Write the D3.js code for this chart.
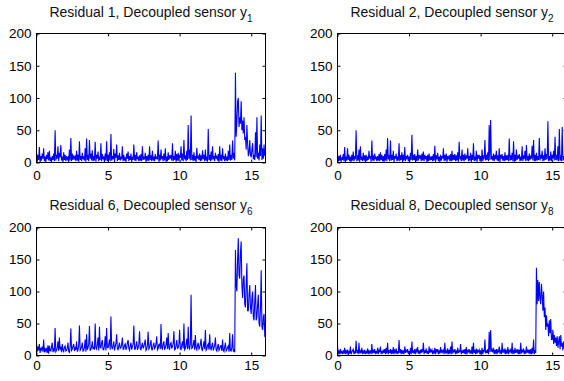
<!DOCTYPE html>
<html>
<head>
<meta charset="utf-8">
<script src="https://cdn.jsdelivr.net/npm/d3@7"></script>
<style>
  body { margin: 0; background: #fff; }
  svg { display: block; font-family: "Liberation Sans", Arial, Helvetica, sans-serif; }
</style>
</head>
<body>
<div id="chart"></div>
<script>
// sample spacing of the residual signals (time axis 0..16)
const sampleStep = 0.05;
const xDomain = [0, 16];
const yDomain = [0, 200];
const xTicks = [0, 5, 10, 15];
const yTicks = [0, 50, 100, 150, 200];

const residualNums = ['1', '2', '6', '8'];

// residual 1, decoupled sensor y1 (one row per time unit)
const residual1 = [
  15, 2, 12, 4, 24, 1, 10, 3, 14, 6, 22, 2, 9, 1, 12, 5, 16, 3, 18, 2,
  8, 1, 10, 4, 14, 2, 50, 3, 12, 6, 25, 2, 15, 8, 27, 3, 9, 1, 16, 4,
  12, 2, 10, 5, 8, 1, 20, 3, 38, 2, 14, 4, 11, 6, 9, 2, 18, 3, 12, 1,
  33, 4, 10, 2, 15, 5, 8, 3, 22, 1, 37, 4, 12, 2, 35, 6, 14, 3, 19, 2,
  10, 3, 32, 1, 12, 6, 17, 2, 9, 4, 30, 2, 13, 5, 8, 1, 14, 3, 33, 2,
  12, 4, 16, 2, 44, 3, 10, 5, 21, 1, 14, 7, 28, 2, 11, 4, 15, 3, 9, 5,
  25, 2, 12, 3, 8, 1, 14, 6, 17, 2, 10, 4, 14, 1, 9, 4, 28, 3, 12, 2,
  16, 5, 9, 2, 11, 3, 13, 2, 25, 4, 8, 6, 15, 1, 10, 3, 12, 2, 25, 4,
  11, 2, 18, 3, 9, 2, 13, 5, 8, 6, 34, 1, 12, 3, 20, 5, 10, 2, 14, 3,
  22, 1, 9, 2, 16, 4, 11, 6, 12, 3, 30, 2, 10, 4, 18, 1, 13, 3, 15, 2,
  12, 7, 25, 3, 14, 2, 35, 5, 11, 2, 18, 4, 58, 6, 20, 3, 73, 4, 12, 2,
  16, 3, 10, 1, 23, 6, 9, 4, 14, 2, 11, 3, 19, 5, 12, 2, 20, 3, 9, 1,
  52, 4, 12, 2, 17, 3, 25, 5, 10, 2, 15, 6, 9, 3, 13, 1, 25, 3, 12, 2,
  22, 5, 10, 2, 14, 3, 9, 2, 18, 4, 28, 3, 12, 4, 34, 6, 15, 3, 139, 40,
  62, 95, 100, 55, 70, 60, 95, 50, 65, 45, 70, 35, 40, 20, 58, 30, 10, 15, 35, 12,
  8, 20, 30, 5, 12, 4, 47, 8, 70, 6, 15, 3, 28, 10, 73, 4, 22, 6, 28, 10,
  20
];

// residual 2, decoupled sensor y2
const residual2 = [
  14, 2, 10, 3, 12, 1, 8, 4, 13, 2, 24, 1, 9, 3, 22, 4, 12, 2, 9, 1,
  12, 3, 17, 2, 10, 5, 50, 2, 11, 3, 20, 1, 25, 4, 9, 2, 15, 3, 11, 1,
  12, 2, 9, 4, 18, 6, 10, 1, 34, 3, 11, 2, 14, 5, 9, 2, 10, 3, 13, 2,
  16, 4, 12, 2, 10, 1, 13, 3, 20, 2, 38, 5, 11, 2, 34, 3, 12, 4, 18, 1,
  10, 6, 14, 2, 9, 3, 30, 2, 11, 4, 16, 1, 12, 3, 24, 2, 10, 7, 12, 2,
  9, 2, 15, 4, 43, 3, 12, 4, 13, 1, 10, 2, 20, 3, 12, 6, 11, 2, 14, 3,
  17, 2, 12, 5, 10, 1, 12, 2, 14, 3, 9, 4, 10, 2, 13, 3, 26, 1, 11, 5,
  15, 2, 9, 1, 12, 3, 10, 6, 22, 2, 12, 3, 14, 1, 10, 5, 11, 2, 13, 2,
  18, 3, 12, 4, 13, 2, 11, 3, 16, 1, 32, 5, 10, 2, 20, 3, 12, 2, 14, 4,
  11, 6, 22, 2, 10, 3, 15, 1, 12, 4, 30, 2, 9, 3, 18, 1, 12, 6, 12, 2,
  10, 3, 20, 2, 11, 5, 35, 3, 12, 4, 16, 2, 58, 4, 66, 5, 10, 3, 14, 2,
  12, 5, 18, 3, 11, 2, 22, 1, 12, 6, 13, 3, 10, 2, 16, 3, 11, 4, 12, 2,
  37, 3, 11, 4, 15, 2, 33, 1, 12, 2, 20, 4, 11, 6, 13, 2, 9, 3, 25, 2,
  11, 5, 18, 2, 27, 3, 10, 2, 14, 4, 9, 6, 26, 3, 35, 2, 12, 2, 15, 3,
  10, 4, 38, 3, 12, 6, 18, 2, 11, 3, 22, 4, 13, 5, 64, 2, 10, 3, 17, 2,
  12, 6, 18, 3, 40, 4, 12, 3, 25, 2, 52, 3, 11, 2, 55, 3, 10, 5, 30, 4,
  12
];

// residual 6, decoupled sensor y6
const residual6 = [
  20, 6, 14, 8, 18, 4, 12, 9, 14, 6, 25, 5, 10, 7, 12, 4, 16, 3, 15, 8,
  7, 14, 20, 5, 10, 8, 43, 6, 8, 12, 22, 7, 28, 9, 14, 5, 18, 8, 6, 13,
  15, 7, 8, 12, 20, 6, 5, 14, 42, 8, 10, 15, 18, 7, 12, 9, 22, 6, 9, 16,
  47, 8, 10, 14, 20, 7, 8, 13, 25, 6, 33, 9, 12, 18, 46, 8, 9, 14, 22, 10,
  14, 9, 50, 12, 10, 17, 28, 8, 45, 13, 12, 20, 24, 9, 9, 15, 30, 8, 43, 12,
  12, 18, 25, 9, 61, 14, 10, 16, 22, 8, 14, 19, 33, 10, 9, 15, 20, 11, 12, 17,
  28, 10, 10, 16, 18, 9, 12, 20, 24, 11, 8, 15, 20, 9, 14, 18, 47, 10, 10, 16,
  22, 9, 12, 17, 38, 10, 9, 15, 20, 11, 14, 19, 25, 8, 10, 16, 37, 10, 12, 18,
  24, 9, 9, 16, 20, 11, 13, 18, 30, 9, 11, 17, 18, 10, 49, 12, 10, 18, 22, 9,
  12, 17, 28, 10, 35, 12, 9, 18, 20, 11, 14, 19, 38, 9, 10, 16, 24, 11, 12, 18,
  40, 10, 9, 17, 22, 11, 50, 9, 11, 18, 26, 10, 45, 12, 10, 19, 95, 11, 12, 17,
  24, 9, 32, 12, 9, 16, 20, 10, 12, 18, 26, 9, 8, 15, 22, 10, 40, 8, 10, 16,
  18, 9, 33, 11, 9, 15, 20, 8, 12, 16, 28, 9, 7, 14, 18, 8, 10, 15, 15, 7,
  25, 8, 6, 14, 20, 7, 9, 13, 15, 6, 35, 8, 7, 12, 33, 6, 10, 5, 165, 110,
  100, 150, 183, 125, 120, 160, 178, 110, 90, 120, 125, 80, 75, 110, 144, 70, 70, 95, 110, 75,
  65, 90, 100, 60, 55, 85, 110, 55, 60, 80, 95, 50, 45, 75, 133, 45, 40, 60, 65, 30,
  28
];

// residual 8, decoupled sensor y8
const residual8 = [
  15, 3, 8, 2, 10, 4, 6, 2, 8, 3, 12, 2, 7, 4, 9, 1, 6, 3, 14, 2,
  5, 8, 10, 2, 6, 3, 23, 4, 9, 2, 20, 3, 7, 4, 12, 2, 8, 3, 9, 2,
  6, 3, 11, 2, 7, 4, 8, 2, 18, 3, 9, 4, 10, 2, 7, 3, 12, 2, 8, 5,
  14, 2, 7, 3, 9, 4, 10, 2, 12, 3, 20, 2, 8, 4, 10, 2, 9, 3, 13, 2,
  8, 5, 11, 2, 7, 3, 24, 4, 10, 2, 9, 3, 8, 2, 14, 4, 9, 5, 10, 2,
  7, 3, 12, 2, 22, 4, 8, 3, 10, 2, 9, 6, 13, 3, 8, 2, 9, 4, 10, 5,
  20, 2, 8, 4, 11, 3, 7, 2, 14, 4, 9, 6, 9, 2, 8, 3, 12, 2, 10, 5,
  10, 2, 8, 3, 13, 4, 9, 5, 8, 2, 20, 3, 7, 4, 11, 2, 9, 3, 14, 2,
  22, 3, 9, 5, 10, 2, 8, 3, 12, 4, 7, 6, 18, 2, 8, 4, 9, 3, 10, 2,
  13, 2, 9, 5, 10, 3, 8, 3, 14, 2, 20, 4, 9, 2, 11, 3, 8, 6, 9, 2,
  8, 3, 12, 2, 9, 5, 25, 3, 8, 4, 10, 2, 37, 5, 40, 6, 9, 5, 12, 2,
  9, 3, 10, 2, 8, 6, 14, 3, 9, 2, 20, 4, 8, 5, 11, 2, 9, 3, 13, 2,
  8, 6, 9, 3, 20, 2, 9, 3, 12, 4, 8, 5, 10, 2, 9, 2, 20, 3, 8, 6,
  11, 2, 8, 3, 14, 4, 9, 5, 9, 2, 10, 2, 12, 3, 25, 2, 8, 4, 137, 80,
  118, 85, 115, 90, 80, 112, 95, 70, 100, 60, 75, 40, 63, 45, 50, 30, 55, 35, 57, 25,
  25, 40, 18, 32, 20, 28, 15, 30, 12, 22, 30, 10, 32, 14, 20, 8, 22, 12, 15, 10,
  15
];

const residualSeries = [residual1, residual2, residual6, residual8];

// layout: one entry per subplot
const width = 564;
const height = 381;
const axW = 229;
const layout = [
  {left: 36.5, top: 33.5, bottom: 162.5, titleY: 17, labelPad: 8},
  {left: 337.5, top: 33.5, bottom: 162.5, titleY: 17, labelPad: 8},
  {left: 36.5, top: 227.5, bottom: 355.5, titleY: 209.5, labelPad: 5},
  {left: 337.5, top: 227.5, bottom: 355.5, titleY: 209.5, labelPad: 5}
];

let mySVG = d3.select('#chart')
  .append('svg')
    .attr('width', width)
    .attr('height', height);

layout.forEach((p, k) => {
  let x = d3.scaleLinear().domain(xDomain).range([p.left, p.left + axW]);
  let y = d3.scaleLinear().domain(yDomain).range([p.bottom, p.top]);

  let g = mySVG.append('g');

  // clip to the axes box
  g.append('clipPath')
      .attr('id', 'clip' + k)
    .append('rect')
      .attr('x', p.left)
      .attr('y', p.top)
      .attr('width', axW)
      .attr('height', p.bottom - p.top);

  // residual trace
  g.append('path')
      .datum(residualSeries[k])
      .attr('clip-path', `url(#clip${k})`)
      .attr('d', d3.line()
        .x((d, i) => x(i * sampleStep))
        .y(d => y(d)))
      .style('fill', 'none')
      .style('stroke', '#0000ff')
      .style('stroke-width', 1.1);

  // box
  g.append('rect')
      .attr('x', p.left)
      .attr('y', p.top)
      .attr('width', axW)
      .attr('height', p.bottom - p.top)
      .style('fill', 'none')
      .style('stroke', '#000')
      .style('stroke-width', 1);

  // axes, ticks pointing inwards
  let axLeft = g.append('g')
      .attr('transform', `translate(${p.left},0)`)
      .call(d3.axisLeft(y).tickValues(yTicks).tickSize(-3).tickPadding(5));
  let axBottom = g.append('g')
      .attr('transform', `translate(0,${p.bottom})`)
      .call(d3.axisBottom(x).tickValues(xTicks).tickSize(-3).tickPadding(p.labelPad));
  g.append('g')
      .attr('transform', `translate(${p.left + axW},0)`)
      .call(d3.axisRight(y).tickValues(yTicks).tickSize(-3).tickFormat(''));
  g.append('g')
      .attr('transform', `translate(0,${p.top})`)
      .call(d3.axisTop(x).tickValues(xTicks).tickSize(-3).tickFormat(''));

  g.selectAll('.domain').remove();
  g.selectAll('.tick line').style('stroke', '#000');
  [axLeft, axBottom].forEach(a => a
    .attr('font-family', null)
    .attr('font-size', null)
    .selectAll('text')
      .style('font-size', '13.5px')
      .style('fill', '#000'));

  // title with subscript
  let title = g.append('text')
      .attr('x', p.left + axW / 2)
      .attr('y', p.titleY)
      .attr('text-anchor', 'middle')
      .style('font-size', '14px')
      .style('fill', '#111');
  title.append('tspan').text(`Residual ${residualNums[k]}, Decoupled sensor y`);
  title.append('tspan')
      .attr('dy', 5)
      .style('font-size', '10px')
      .text(residualNums[k]);
});
</script>
</body>
</html>
